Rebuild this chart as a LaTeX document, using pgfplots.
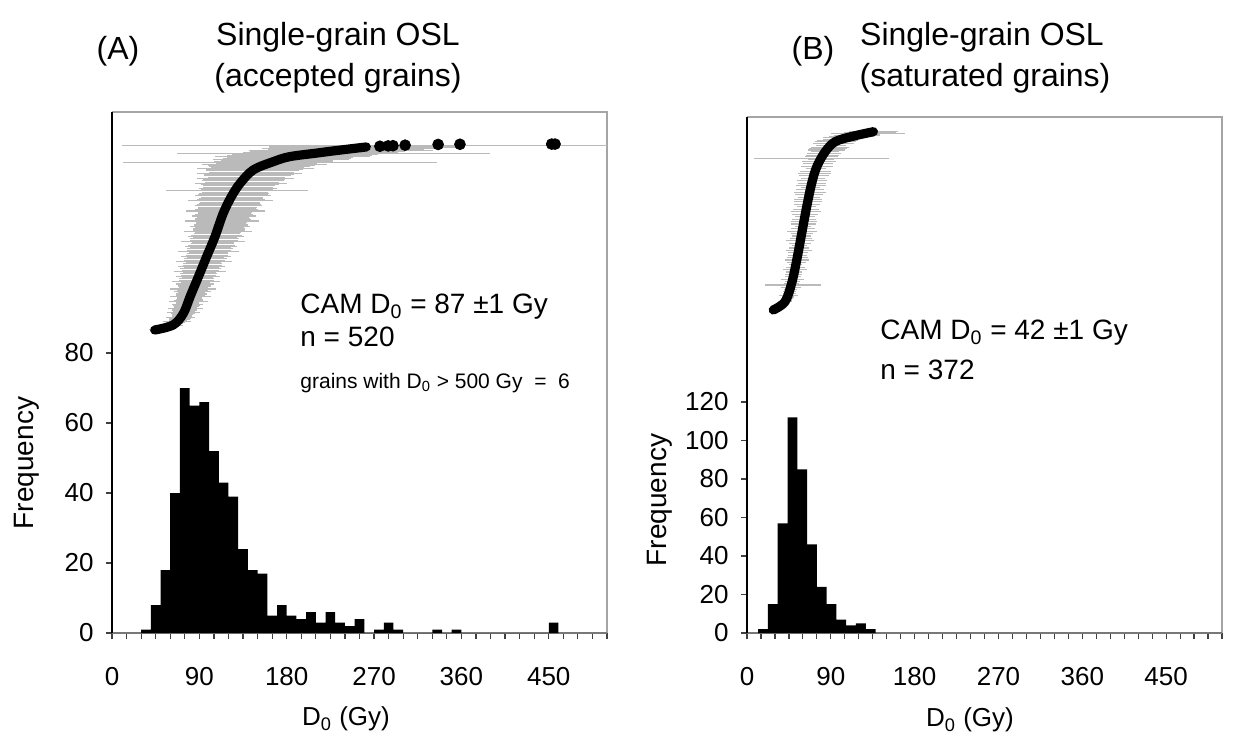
\documentclass[border=0pt]{standalone}
\usepackage{fontspec}
\setmainfont{Liberation Sans}
\usepackage{pgfplots}
\pgfplotsset{compat=1.18}

\definecolor{errgray}{RGB}{186,186,186}
\definecolor{framegray}{RGB}{165,165,165}
\definecolor{axgray}{RGB}{120,120,120}
\newcommand{\fs}[1]{\fontsize{#1}{#1}\selectfont}

\pgfplotsset{
  hist/.style={
    scale only axis, anchor=south west,
    xmin=0, xmax=510, ymin=0,
    xtick={0,90,...,450}, minor xtick={0,15,...,510},
    tick align=outside, major tick length=3pt, minor tick length=3pt,
    xtick pos=left, ytick pos=left,
    tick style={black!75, line width=0.6pt},
    axis line style={draw=none},
    /pgf/number format/assume math mode=true,
    ticklabel style={font=\fs{13}},
    xticklabel style={anchor=center, yshift=-19pt},
    yticklabel style={anchor=east, inner sep=0pt, xshift=-6pt},
    clip=false,
  },
  over/.style={scale only axis, anchor=south west, xmin=0, xmax=510, hide axis, clip=true},
  errbars/.style={forget plot, only marks, mark=*, mark size=0pt,
    mark options={draw=none, fill=none},
    error bars/.cd, x dir=both, x explicit, error mark=none,
    error bar style={draw=errgray, line width=0.55pt}},
  curve/.style={black, line width=4.6pt, smooth, tension=0.55, line cap=round, line join=round},
}

\begin{document}
\begin{tikzpicture}
\path[use as bounding box] (0,0) rectangle (622.5pt,369pt);

% ---------------- Panel A histogram ----------------
\begin{axis}[hist, at={(56pt,52.5pt)}, width=247.5pt, height=260.5pt,
  ymax=148.86, ytick={0,20,40,60,80}]
\draw[framegray, line width=0.6pt] (rel axis cs:0,1) -- (rel axis cs:1,1) -- (rel axis cs:1,0);
\draw[axgray, line width=0.8pt] (rel axis cs:0,0) -- (rel axis cs:1,0);
\draw[black, line width=0.8pt] (rel axis cs:0,0) -- (rel axis cs:0,1);
\addplot[ybar interval, fill=black, draw=none] coordinates {
(30,1)(40,8)(50,18)(60,40)(70,70)(80,65)(90,66)(100,52)(110,43)(120,39)
(130,24)(140,18)(150,17)(160,5)(170,8)(180,5)(190,4)(200,6)(210,3)(220,6)
(230,3)(240,2)(250,4)(260,0)(270,1)(280,3)(290,1)(300,0)(330,1)(340,0)
(350,1)(360,0)(450,3)(460,0)};
\end{axis}

% ---------------- Panel A ranked plot ----------------
\begin{axis}[over, at={(56pt,52.5pt)}, width=247.5pt, height=260.5pt,
  ymin=-841.5, ymax=607.2]
\addplot[errbars] table[x=x, y=y, x error=e] {
x y e
46 3 8
55 8 10
61 13 12
64 19 9
67 25 14
69.5 31 11
71 37 15
72.5 43 11
73.5 49 17
74.5 55 13
75.5 61 18
76.5 67 13
77.5 73 16
78.5 80 20
79.5 87 14
80.5 94 21
81.5 101 16
82.5 108 19
83.5 115 24
84.5 122 17
85.5 129 20
86.5 136 25
87.5 143 18
88.5 150 23
89.5 157 19
90.5 164 27
91.5 171 21
92.5 178 24
93.5 185 20
95 192 29
96 199 22
97 206 26
98.5 213 21
99.5 220 31
101 227 24
102 234 27
103.5 241 22
104.5 248 33
105.5 255 25
107 262 29
108 269 24
109.5 276 35
110.5 283 27
111.5 290 31
112.5 297 26
113.5 304 38
114 311 28
115 318 33
116 325 27
117 332 41
118.5 339 30
120 346 35
121 353 31
122 360 44
123 367 33
124.5 374 39
126 381 36
129 388 73
129.5 395 40
131 402 37
133 409 47
135 416 42
137.5 423 50
139.5 430 45
142 437 54
145 444 48
148 451 60
152 457 52
157 462 64
162 466 58
173 468 162
174 474 70
180 479 66
186 483 80
193 487 75
205 491 85
228 493 161
215 495 80
236 501 95
245 505 90
255 508 75
262 510 100
300 513 290
48 5 7
58 10 9
62.5 16 8
65.5 22 10
68 28 9
70 34 11
72 40 10
73 46 12
74 52 11
75 58 13
76 64 12
77 70 14
78 76 12
79 83 15
80 90 13
81 97 15
82 104 14
83 111 16
84 118 15
85 125 17
86 132 15
87 139 18
88 146 16
89 153 18
90 160 17
91 167 19
92 174 18
93 181 20
94 188 18
95.5 195 21
96.5 202 19
98 209 22
99 216 20
100 223 23
101.5 230 21
102.5 237 24
104 244 22
105 251 25
106 258 23
107.5 265 26
109 272 24
110 279 27
111 286 25
112 293 28
113 300 26
114 307 29
114.5 314 27
115.5 321 30
116.5 328 28
118 335 32
119 342 30
120.5 349 33
121.5 356 31
122.5 363 35
124 370 32
125 377 36
127 384 34
128.5 391 37
130 398 36
132 405 40
134 412 38
136 419 42
138.5 426 40
141 433 46
143.5 440 44
146.5 447 50
150 454 48
154 459 55
159.5 464 52
165 469 60
170 471 58
177 476 62
183 481 65
189 485 70
199 489 75
210 492 70
222 497 80
232 500 85
241 503 80
250 506 85
258 509 70
};
\addplot[curve] table {
44 1
63 15
73.5 47
80.5 94
89 149
97.5 205
106 260
114.5 325
123 372
132 409
145.5 446
166 469
183 483
211 493
228 499
262 510
};
\addplot[only marks, mark=*, mark size=2.7pt, black] table {
276 512
284.5 513
289.5 513.5
302 515
336 517
358.5 517.5
453 518
456.5 518
};
\end{axis}

% ---------------- Panel B histogram ----------------
\begin{axis}[hist, at={(373.5pt,52.5pt)}, width=237.5pt, height=258pt,
  ymax=268.05, ytick={0,20,40,60,80,100,120}]
\draw[framegray, line width=0.6pt] (rel axis cs:0,1) -- (rel axis cs:1,1) -- (rel axis cs:1,0);
\draw[axgray, line width=0.8pt] (rel axis cs:0,0) -- (rel axis cs:1,0);
\draw[black, line width=0.8pt] (rel axis cs:0,0) -- (rel axis cs:0,1);
\addplot[ybar interval, fill=black, draw=none] coordinates {
(12,2)(22.5,15)(33,57)(43.5,112)(54,85)(64.5,46)(75,24)(85.5,15)(96,7)
(106.5,4)(117,5)(127.5,2)(138,0)};
\end{axis}

% ---------------- Panel B ranked plot ----------------
\begin{axis}[over, at={(373.5pt,52.5pt)}, width=237.5pt, height=258pt,
  ymin=-671.2, ymax=402.6]
\addplot[errbars] table[x=x, y=y, x error=e] {
x y e
30 3 5
34 8 7
37.5 13 6
40.8 18 8
43 25 6
44.5 32 10
46 40 7
47 48 11
49 53 30
48 57 8
49 65 12
50 75 9
51.2 85 13
52.3 95 7
53.4 105 13
54.5 115 10
55.4 125 14
56.4 135 8
57.3 145 15
58.2 155 10
59.2 165 16
60.2 175 9
61.1 185 14
62.1 195 11
63 205 16
64.1 216 10
65.2 226 15
66.3 236 12
67.4 246 17
68.5 256 10
69.5 265 15
71 275 13
72.6 285 18
74.2 295 11
76.3 305 16
79 315 14
80 317 72
81 322 18
83.8 330 15
87 337 20
90.5 344 16
94.5 351 22
100 356 18
112.5 362 24
123 367 20
130 369 40
135.7 372 26
32 5 4
36 10 5
39 15 5
42 21 6
44 28 6
45.5 36 7
46.5 44 7
47.5 52 8
48.5 61 8
49.5 70 9
50.5 80 9
51.8 90 10
53 100 10
54 110 11
55 120 11
56 130 11
57 140 12
57.8 150 12
58.8 160 12
59.7 170 13
60.7 180 13
61.6 190 13
62.6 200 14
63.5 210 14
64.6 221 14
65.7 231 15
66.8 241 15
68 251 15
69 260 16
70.2 270 16
71.8 280 16
73.4 290 17
75.2 300 17
77.5 310 18
80 320 18
82.5 326 18
85.5 334 20
89 340 20
92.5 348 22
97 354 22
106 359 24
118 365 25
132 371 28
};
\addplot[curve] table {
28.2 1
40.8 18
48 57
53.4 105
58.8 161
64.1 216
69.5 265
74.9 299
83.8 330
94.5 351
112.5 362
135.7 372
};
\end{axis}

% ---------------- Text ----------------
\node[font=\fs{16}, anchor=base] at (59pt,339pt) {(A)};
\node[font=\fs{16}, anchor=base] at (169pt,346pt) {Single-grain OSL};
\node[font=\fs{16}, anchor=base] at (169pt,325.5pt) {(accepted grains)};
\node[font=\fs{16}, anchor=base] at (406.5pt,339pt) {(B)};
\node[font=\fs{16}, anchor=base] at (491pt,346pt) {Single-grain OSL};
\node[font=\fs{16}, anchor=base] at (492.5pt,325.5pt) {(saturated grains)};

\node[font=\fs{14}, anchor=base west, inner sep=0pt] at (150pt,212pt) {CAM D\textsubscript{0} = 87 ±1 Gy};
\node[font=\fs{14}, anchor=base west, inner sep=0pt] at (150pt,195.5pt) {n = 520};
\node[font=\fs{10.5}, anchor=base west, inner sep=0pt] at (150pt,174.75pt) {grains with D\textsubscript{0} > 500 Gy ~=~ 6};
\node[font=\fs{14}, anchor=base west, inner sep=0pt] at (440pt,199pt) {CAM D\textsubscript{0} = 42 ±1 Gy};
\node[font=\fs{14}, anchor=base west, inner sep=0pt] at (440pt,179pt) {n = 372};

\node[font=\fs{14}, rotate=90] at (13.5pt,137.5pt) {Frequency};
\node[font=\fs{14}, rotate=90] at (330pt,119pt) {Frequency};
\node[font=\fs{13}] at (173pt,9.5pt) {D\textsubscript{0} (Gy)};
\node[font=\fs{13}] at (485pt,9pt) {D\textsubscript{0} (Gy)};
\end{tikzpicture}
\end{document}
